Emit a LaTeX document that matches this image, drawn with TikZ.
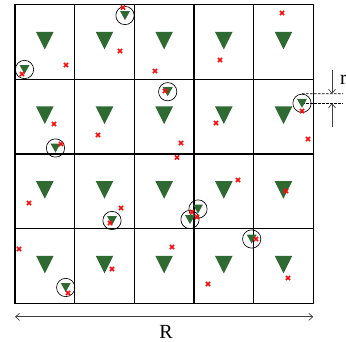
\documentclass[tikz,border=0pt]{standalone}
\usepackage{fontspec}
\setmainfont{Liberation Serif}
\usetikzlibrary{arrows.meta, positioning}
\definecolor{bsgreen}{RGB}{46,106,50}
\definecolor{uered}{RGB}{250,12,12}

\begin{document}
\begin{tikzpicture}[
  x=1pt, y=-1pt,
  cellbox/.style={
    rectangle,
    draw=black,
    line width=1.5pt,
    minimum width=59.66pt,
    minimum height=74.65pt,
    inner sep=0pt,
    outer sep=0pt
  },
  cover/.style={circle, draw=black, line width=0.65pt, minimum size=18.3pt, inner sep=0pt},
  bigbs/.pic={\fill[bsgreen] (-8.8,-9.2) -- (8.8,-9.2) -- (0,8.4) -- cycle;},
  smallbs/.pic={\fill[bsgreen] (-5,-4.5) -- (5,-4.5) -- (0,4.5) -- cycle;},
  ue/.pic={\draw[uered, line width=1.6pt] (-2.1,-2.1) -- (2.1,2.1) (-2.1,2.1) -- (2.1,-2.1);},
  guide/.style={draw=black, line width=0.7pt, dash pattern=on 2.5pt off 1.5pt},
  dimline/.style={draw=black!75, line width=0.7pt, {Straight Barb[length=4pt,width=7pt]}-{Straight Barb[length=4pt,width=7pt]}},
  rarrow/.style={draw=black!75, line width=0.7pt, -{Straight Barb[length=4pt,width=7pt]}},
  lbl/.style={font=\fontsize{20}{22}\selectfont, inner sep=0pt}
]
\useasboundingbox (0,0) rectangle (346,341);

% cells with one big station each
\foreach \i in {0,...,4}
  \foreach \j in {0,...,3} {
    \node[cellbox] (c\i\j) at ({15+59.66*(\i+0.5)}, {4.7+74.65*(\j+0.5)}) {};
    \pic at ([yshift=1pt]c\i\j.center) {bigbs};
  }

% small stations and their coverage circles
\foreach \n/\px/\py in {1/125/15.5, 2/24.5/69.5, 3/167.7/91.7, 4/55.5/148, 5/302/103.3,
                        6/112/220.5, 7/65.7/287.5, 8/198/209, 9/190/219.5, 10/251.7/239}
  \node[cover] (u\n) at (\px,\py) {};

% radius marks
\coordinate (rtopend) at (343,93.8);
\coordinate (rmidend) at (343,103.3);
\coordinate (rarrA) at (332,70);
\coordinate (rarrB) at (332,127);
\draw[guide] (u5.north) -- (rtopend);
\draw[guide] (u5.center) -- (rmidend);

\foreach \n in {1,...,10}
  \pic at (u\n) {smallbs};

% users
\foreach \px/\py in {123/7.5, 120/51, 66/65, 22/74, 155/71, 282/13, 220/60,
                     165/91, 54/124, 98/135, 61/144, 216/123, 302/111, 308/139, 181/143, 177/157.5,
                     29/203, 121/208, 110/223, 238/180, 286/191, 192/212, 197/217,
                     19/249, 112/269, 172/247, 68/293, 256/239, 208/284, 288/278}
  \pic at (\px,\py) {ue};

\draw[rarrow] (rarrA) -- (rarrA |- u5.north);
\draw[rarrow] (rarrB) -- (rarrB |- u5.center);
\node[lbl, anchor=west] (rsmall) at (340,80) {r};

\draw[dimline] ([yshift=-13.5pt]c03.south west) -- ([yshift=-13.5pt]c43.south east);
\node[lbl] (rbig) at (166,331.5) {R};

\end{tikzpicture}
\end{document}
